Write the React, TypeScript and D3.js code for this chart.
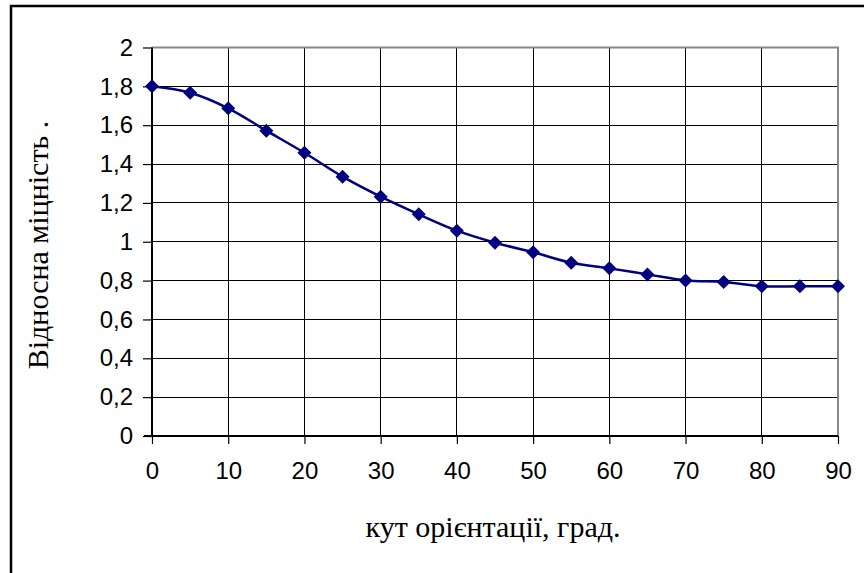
import React, { useEffect, useRef } from 'react';
import * as d3 from 'd3';

// кут орієнтації, град.
const angles = [0, 5, 10, 15, 20, 25, 30, 35, 40, 45, 50, 55, 60, 65, 70, 75, 80, 85, 90];
// відносна міцність
const strength = [1.8, 1.767, 1.687, 1.572, 1.458, 1.335, 1.232, 1.141, 1.057, 0.995, 0.946, 0.892, 0.863, 0.832, 0.801, 0.793, 0.771, 0.771, 0.771];
const xTicks = [0, 10, 20, 30, 40, 50, 60, 70, 80, 90];
const yTicks = [0, 0.2, 0.4, 0.6, 0.8, 1, 1.2, 1.4, 1.6, 1.8, 2];

const W = 864;
const H = 573;
const SANS = '"Liberation Sans", Arial, sans-serif';
const SERIF = '"Times New Roman", "Liberation Serif", "DejaVu Serif", serif';

const App = () => {
  const ref = useRef<SVGSVGElement>(null);

  useEffect(() => {
    const svg = d3.select(ref.current);
    svg.selectAll('*').remove();

    const x = d3.scaleLinear().domain([0, 90]).range([152, 838]);
    const y = d3.scaleLinear().domain([0, 2]).range([436, 47.5]);

    svg.append('rect').attr('width', W).attr('height', H).attr('fill', '#fff');

    // outer chart frame (only top and left visible)
    svg.append('rect')
      .attr('x', 11).attr('y', 6)
      .attr('width', W + 20).attr('height', H + 20)
      .attr('fill', 'none').attr('stroke', '#000').attr('stroke-width', 2.5);

    // gridlines
    const grid = svg.append('g').attr('stroke', '#000').attr('stroke-width', 1).attr('shape-rendering', 'crispEdges');
    grid.selectAll('line.h').data(yTicks.slice(1, -1)).enter().append('line')
      .attr('x1', x(0)).attr('x2', x(90))
      .attr('y1', d => y(d)).attr('y2', d => y(d));
    grid.selectAll('line.v').data(xTicks.slice(1, -1)).enter().append('line')
      .attr('x1', d => x(d)).attr('x2', d => x(d))
      .attr('y1', y(0)).attr('y2', y(2));

    // plot area border (top & right, gray)
    svg.append('path')
      .attr('d', `M${x(0)},${y(2)}H${x(90)}V${y(0)}`)
      .attr('fill', 'none').attr('stroke', '#888').attr('stroke-width', 2);

    // y axis
    const yAxis = svg.append('g')
      .attr('transform', `translate(${x(0)},0)`)
      .call(d3.axisLeft(y).tickValues(yTicks).tickSize(9).tickPadding(10)
        .tickFormat(d => String(+d).replace('.', ',')));
    yAxis.select('.domain').attr('stroke-width', 2).attr('d', `M0,${y(0)}V${y(2)}`);
    yAxis.selectAll('.tick line').attr('stroke-width', 1.2);
    yAxis.selectAll('text')
      .style('font-family', SANS)
      .style('font-size', '24px').attr('fill', '#000');

    // x axis
    const xAxis = svg.append('g')
      .attr('transform', `translate(0,${y(0)})`)
      .call(d3.axisBottom(x).tickValues(xTicks).tickSize(8).tickPadding(18));
    xAxis.select('.domain').attr('stroke-width', 2).attr('d', `M${x(0) - 8},0H${x(90)}`);
    xAxis.selectAll('.tick line').attr('stroke-width', 1.2);
    xAxis.selectAll('text')
      .style('font-family', SANS)
      .style('font-size', '24px').attr('fill', '#000');

    const data = angles.map((a, i) => ({ a, v: strength[i] }));

    // smoothed line
    svg.append('path')
      .datum(data)
      .attr('fill', 'none')
      .attr('stroke', '#000080')
      .attr('stroke-width', 2.5)
      .attr('d', d3.line<{ a: number; v: number }>()
        .x(d => x(d.a))
        .y(d => y(d.v))
        .curve(d3.curveCatmullRom.alpha(0.5)));

    // diamond markers
    svg.append('g')
      .selectAll('path')
      .data(data)
      .enter().append('path')
      .attr('transform', d => `translate(${x(d.a)},${y(d.v)})`)
      .attr('d', 'M0,-7L7,0L0,7L-7,0Z')
      .attr('fill', '#000080');

    // axis titles
    svg.append('text')
      .attr('x', 493).attr('y', 537)
      .attr('text-anchor', 'middle')
      .style('font-family', SERIF)
      .style('font-size', '30px')
      .attr('fill', '#000')
      .text('кут орієнтації, град.');

    svg.append('text')
      .attr('transform', `translate(48,245) rotate(-90)`)
      .attr('text-anchor', 'middle')
      .style('font-family', SERIF)
      .style('font-size', '30px')
      .attr('fill', '#000')
      .text('Відносна міцність .');
  }, []);

  return (
    <svg ref={ref} width={W} height={H}
      style={{ position: 'absolute', left: 0, top: 0, display: 'block' }} />
  );
};

export default App;
